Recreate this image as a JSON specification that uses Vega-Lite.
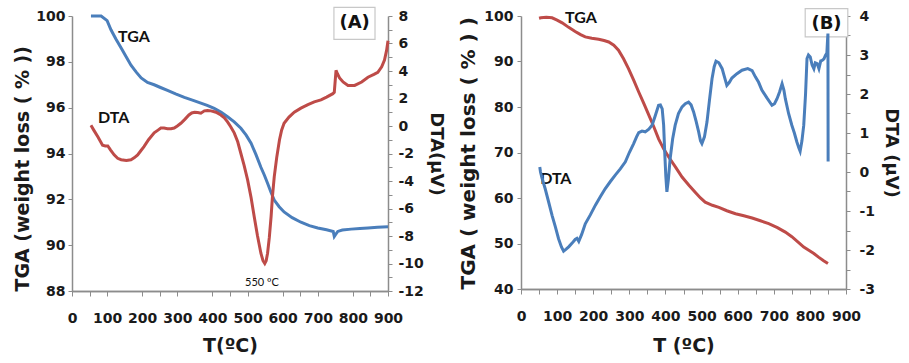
{
  "$schema": "https://vega.github.io/schema/vega-lite/v6.json",
  "padding": {"left": 13, "top": 6, "right": 5, "bottom": 5},
  "background": "white",
  "datasets": {
    "a_tga": [
      {"T":54,"v":100},{"T":83,"v":100},{"T":100,"v":99.8},{"T":111,"v":99.4},{"T":125,"v":99.0},{"T":140,"v":98.6},{"T":155,"v":98.2},{"T":168,"v":97.85},{"T":183,"v":97.55},{"T":197,"v":97.3},{"T":215,"v":97.1},{"T":234,"v":97.0},{"T":252,"v":96.88},{"T":272,"v":96.75},{"T":295,"v":96.6},{"T":320,"v":96.45},{"T":345,"v":96.32},{"T":367,"v":96.2},{"T":385,"v":96.1},{"T":405,"v":95.97},{"T":425,"v":95.8},{"T":443,"v":95.6},{"T":462,"v":95.38},{"T":481,"v":95.1},{"T":496,"v":94.8},{"T":510,"v":94.45},{"T":524,"v":93.95},{"T":538,"v":93.4},{"T":548,"v":93.05},{"T":557,"v":92.7},{"T":567,"v":92.3},{"T":576,"v":91.97},{"T":590,"v":91.68},{"T":604,"v":91.45},{"T":627,"v":91.2},{"T":652,"v":91.0},{"T":676,"v":90.85},{"T":700,"v":90.75},{"T":725,"v":90.67},{"T":744,"v":90.6},{"T":747,"v":90.38},{"T":750,"v":90.45},{"T":757,"v":90.6},{"T":770,"v":90.66},{"T":795,"v":90.7},{"T":820,"v":90.73},{"T":843,"v":90.75},{"T":870,"v":90.78},{"T":900,"v":90.8}
    ],
    "a_dta": [
      {"T":54,"d":0.05},{"T":62,"d":-0.3},{"T":74,"d":-0.8},{"T":87,"d":-1.4},{"T":95,"d":-1.45},{"T":102,"d":-1.45},{"T":110,"d":-1.75},{"T":120,"d":-2.1},{"T":130,"d":-2.35},{"T":140,"d":-2.45},{"T":155,"d":-2.5},{"T":168,"d":-2.45},{"T":178,"d":-2.3},{"T":187,"d":-2.1},{"T":196,"d":-1.8},{"T":205,"d":-1.5},{"T":218,"d":-1.0},{"T":234,"d":-0.5},{"T":245,"d":-0.3},{"T":253,"d":-0.15},{"T":262,"d":-0.15},{"T":272,"d":-0.2},{"T":282,"d":-0.2},{"T":291,"d":-0.15},{"T":300,"d":0.0},{"T":310,"d":0.2},{"T":322,"d":0.5},{"T":333,"d":0.8},{"T":341,"d":0.95},{"T":349,"d":1.0},{"T":358,"d":0.98},{"T":367,"d":0.93},{"T":377,"d":1.1},{"T":386,"d":1.12},{"T":396,"d":1.1},{"T":410,"d":1.0},{"T":424,"d":0.8},{"T":434,"d":0.6},{"T":443,"d":0.3},{"T":452,"d":-0.05},{"T":462,"d":-0.5},{"T":472,"d":-1.15},{"T":481,"d":-2.0},{"T":490,"d":-2.85},{"T":500,"d":-3.9},{"T":510,"d":-5.2},{"T":519,"d":-6.6},{"T":528,"d":-7.95},{"T":538,"d":-9.25},{"T":544,"d":-9.8},{"T":549,"d":-10.0},{"T":553,"d":-9.8},{"T":557,"d":-9.25},{"T":562,"d":-8.1},{"T":567,"d":-6.6},{"T":571,"d":-5.1},{"T":576,"d":-3.7},{"T":583,"d":-2.3},{"T":591,"d":-1.0},{"T":597,"d":-0.3},{"T":604,"d":0.2},{"T":618,"d":0.65},{"T":633,"d":1.0},{"T":652,"d":1.3},{"T":672,"d":1.55},{"T":690,"d":1.75},{"T":709,"d":1.9},{"T":725,"d":2.1},{"T":743,"d":2.35},{"T":747,"d":2.45},{"T":752,"d":4.05},{"T":756,"d":3.8},{"T":762,"d":3.5},{"T":772,"d":3.2},{"T":786,"d":2.95},{"T":805,"d":2.95},{"T":825,"d":3.2},{"T":843,"d":3.55},{"T":860,"d":3.75},{"T":871,"d":3.9},{"T":882,"d":4.3},{"T":890,"d":4.8},{"T":896,"d":5.5},{"T":900,"d":6.2}
    ],
    "a_box": [{"T":746,"T2":863,"v":98.98,"v2":100.38}],
    "a_text": [{"T":805,"v":99.68,"label":"(A)"}],
    "a_lab": [{"T":131,"v":99.07,"label":"TGA"},{"T":74,"v":95.54,"label":"DTA"}],
    "a_small": [{"T":541,"v":88.36,"label":"550 ºC"}],
    "b_tga": [
      {"T":50,"v":99.5},{"T":55,"v":99.6},{"T":70,"v":99.7},{"T":86,"v":99.6},{"T":100,"v":99.1},{"T":114,"v":98.5},{"T":132,"v":97.5},{"T":150,"v":96.6},{"T":165,"v":95.9},{"T":178,"v":95.4},{"T":196,"v":95.1},{"T":215,"v":94.9},{"T":230,"v":94.6},{"T":243,"v":94.3},{"T":257,"v":93.6},{"T":270,"v":92.5},{"T":284,"v":90.6},{"T":298,"v":88.4},{"T":312,"v":85.9},{"T":326,"v":83.3},{"T":340,"v":80.8},{"T":354,"v":78.2},{"T":368,"v":75.6},{"T":381,"v":73.0},{"T":395,"v":70.8},{"T":409,"v":69.0},{"T":428,"v":66.8},{"T":446,"v":64.6},{"T":465,"v":62.8},{"T":483,"v":61.2},{"T":497,"v":60.0},{"T":510,"v":59.1},{"T":530,"v":58.4},{"T":548,"v":57.95},{"T":570,"v":57.2},{"T":594,"v":56.55},{"T":617,"v":56.1},{"T":640,"v":55.6},{"T":663,"v":55.0},{"T":686,"v":54.35},{"T":710,"v":53.5},{"T":732,"v":52.5},{"T":750,"v":51.5},{"T":769,"v":50.2},{"T":783,"v":49.2},{"T":797,"v":48.5},{"T":811,"v":47.8},{"T":824,"v":47.0},{"T":838,"v":46.2},{"T":850,"v":45.6}
    ],
    "b_dta": [
      {"T":52,"d":0.13},{"T":54,"d":0.0},{"T":58,"d":-0.15},{"T":67,"d":-0.43},{"T":76,"d":-0.75},{"T":86,"d":-1.11},{"T":95,"d":-1.4},{"T":104,"d":-1.71},{"T":112,"d":-1.92},{"T":118,"d":-2.03},{"T":125,"d":-1.98},{"T":132,"d":-1.92},{"T":141,"d":-1.83},{"T":150,"d":-1.73},{"T":155,"d":-1.7},{"T":160,"d":-1.78},{"T":168,"d":-1.6},{"T":178,"d":-1.33},{"T":192,"d":-1.1},{"T":206,"d":-0.85},{"T":220,"d":-0.63},{"T":233,"d":-0.43},{"T":247,"d":-0.25},{"T":261,"d":-0.08},{"T":275,"d":0.08},{"T":289,"d":0.26},{"T":300,"d":0.5},{"T":312,"d":0.73},{"T":320,"d":0.9},{"T":326,"d":1.01},{"T":335,"d":1.05},{"T":344,"d":1.03},{"T":354,"d":1.1},{"T":363,"d":1.2},{"T":372,"d":1.45},{"T":381,"d":1.71},{"T":386,"d":1.72},{"T":391,"d":1.62},{"T":395,"d":1.2},{"T":398,"d":0.51},{"T":401,"d":-0.1},{"T":404,"d":-0.51},{"T":408,"d":-0.2},{"T":413,"d":0.34},{"T":420,"d":0.85},{"T":427,"d":1.2},{"T":436,"d":1.5},{"T":446,"d":1.67},{"T":455,"d":1.75},{"T":464,"d":1.79},{"T":471,"d":1.72},{"T":478,"d":1.54},{"T":485,"d":1.3},{"T":492,"d":1.03},{"T":497,"d":0.8},{"T":501,"d":0.73},{"T":508,"d":0.9},{"T":515,"d":1.28},{"T":522,"d":1.85},{"T":529,"d":2.39},{"T":535,"d":2.7},{"T":540,"d":2.84},{"T":548,"d":2.8},{"T":557,"d":2.65},{"T":563,"d":2.45},{"T":570,"d":2.22},{"T":577,"d":2.3},{"T":584,"d":2.41},{"T":598,"d":2.52},{"T":612,"d":2.61},{"T":628,"d":2.65},{"T":640,"d":2.6},{"T":649,"d":2.44},{"T":658,"d":2.3},{"T":667,"d":2.1},{"T":681,"d":1.9},{"T":695,"d":1.71},{"T":702,"d":1.75},{"T":709,"d":1.88},{"T":716,"d":2.05},{"T":723,"d":2.26},{"T":728,"d":2.1},{"T":732,"d":1.88},{"T":741,"d":1.5},{"T":750,"d":1.2},{"T":757,"d":1.0},{"T":764,"d":0.77},{"T":770,"d":0.6},{"T":773,"d":0.53},{"T":778,"d":0.8},{"T":783,"d":1.2},{"T":788,"d":2.0},{"T":792,"d":2.91},{"T":796,"d":3.0},{"T":801,"d":2.95},{"T":806,"d":2.75},{"T":811,"d":2.65},{"T":815,"d":2.8},{"T":820,"d":2.78},{"T":825,"d":2.65},{"T":830,"d":2.85},{"T":834,"d":2.86},{"T":839,"d":2.9},{"T":843,"d":2.99},{"T":847,"d":3.05},{"T":849,"d":3.4},{"T":850,"d":3.55},{"T":850.5,"d":0.27}
    ],
    "b_box": [{"T":787,"T2":905,"v":95.4,"v2":101.6}],
    "b_text": [{"T":846,"v":98.3,"label":"(B)"}],
    "b_lab": [{"T":122,"v":99.6,"label":"TGA"},{"T":53,"v":64.2,"label":"DTA"}]
  },
  "hconcat": [
    {
      "width": 316,
      "height": 275,
      "layer": [
        {
          "layer": [
            {
              "data": {"name": "a_tga"},
              "mark": {"type": "line", "color": "#4a7ebb", "strokeWidth": 3},
              "encoding": {
                "x": {"field": "T", "type": "quantitative", "scale": {"domain": [0, 900], "nice": false},
                  "axis": {"orient": "bottom", "title": null, "labels": false, "tickSize": 5, "values": [50,150,250,350,450,550,650,750,850]}},
                "y": {"field": "v", "type": "quantitative", "scale": {"domain": [88, 100], "nice": false, "zero": false},
                  "axis": {"title": "TGA (weight loss ( % ))", "titleAnchor": "start", "values": [88,89,90,91,92,93,94,95,96,97,98,99,100],
                    "labelExpr": "datum.value % 2 == 0 ? datum.label : ''", "labelOverlap": false, "labelPadding": 3, "titlePadding": 3, "titleFontSize": 19}}
              }
            },
            {
              "data": {"name": "a_box"},
              "mark": {"type": "rect", "fill": "white", "stroke": "#c8c8c8", "strokeWidth": 1.2},
              "encoding": {
                "x": {"field": "T", "type": "quantitative"},
                "x2": {"field": "T2"},
                "y": {"field": "v", "type": "quantitative"},
                "y2": {"field": "v2"}
              }
            },
            {
              "data": {"name": "a_text"},
              "mark": {"type": "text", "font": "DejaVu Sans", "fontWeight": "bold", "fontSize": 18, "color": "#111", "align": "center", "baseline": "middle"},
              "encoding": {
                "x": {"field": "T", "type": "quantitative"},
                "y": {"field": "v", "type": "quantitative"},
                "text": {"field": "label"}
              }
            },
            {
              "data": {"name": "a_lab"},
              "mark": {"type": "text", "font": "Lato", "fontWeight": "bold", "fontSize": 16, "color": "#111", "align": "left", "baseline": "middle"},
              "encoding": {
                "x": {"field": "T", "type": "quantitative"},
                "y": {"field": "v", "type": "quantitative"},
                "text": {"field": "label"}
              }
            },
            {
              "data": {"name": "a_small"},
              "mark": {"type": "text", "font": "Lato", "fontSize": 11, "color": "#111", "align": "center", "baseline": "middle"},
              "encoding": {
                "x": {"field": "T", "type": "quantitative"},
                "y": {"field": "v", "type": "quantitative"},
                "text": {"field": "label"}
              }
            }
          ]
        },
        {
          "data": {"name": "a_dta"},
          "mark": {"type": "line", "color": "#be4b48", "strokeWidth": 3},
          "encoding": {
            "x": {"field": "T", "type": "quantitative",
              "axis": {"orient": "bottom", "title": "T(ºC)", "values": [0,100,200,300,400,500,600,700,800,900],
                "labelOverlap": false, "labelSeparation": -10, "labelFont": "DejaVu Sans", "labelFontSize": 14, "labelFontWeight": "bold",
                "labelPadding": 15, "titlePadding": 11, "tickSize": 5, "titleFontSize": 19}},
            "y": {"field": "d", "type": "quantitative", "scale": {"domain": [-12, 8], "nice": false, "zero": false},
              "axis": {"orient": "right", "title": "DTA(μV)", "values": [-12,-11,-10,-9,-8,-7,-6,-5,-4,-3,-2,-1,0,1,2,3,4,5,6,7,8],
                "labelExpr": "datum.value % 2 == 0 ? ('' + datum.value) : ''", "labelOverlap": false, "labelPadding": 6, "titlePadding": 3}}
          }
        }
      ],
      "resolve": {"scale": {"y": "independent"}, "axis": {"x": "independent"}}
    },
    {
      "width": 325,
      "height": 273,
      "layer": [
        {
          "layer": [
            {
              "data": {"name": "b_box"},
              "mark": {"type": "rect", "fill": "white", "stroke": "#c8c8c8", "strokeWidth": 1.2},
              "encoding": {
                "x": {"field": "T", "type": "quantitative"},
                "x2": {"field": "T2"},
                "y": {"field": "v", "type": "quantitative"},
                "y2": {"field": "v2"}
              }
            },
            {
              "data": {"name": "b_tga"},
              "mark": {"type": "line", "color": "#be4b48", "strokeWidth": 3},
              "encoding": {
                "x": {"field": "T", "type": "quantitative", "scale": {"domain": [0, 900], "nice": false},
                  "axis": {"orient": "bottom", "title": null, "labels": false, "tickSize": 5, "values": [50,150,250,350,450,550,650,750,850]}},
                "y": {"field": "v", "type": "quantitative", "scale": {"domain": [40, 100], "nice": false, "zero": false},
                  "axis": {"title": "TGA ( weight loss ( % ) )", "titleAnchor": "start", "values": [40,45,50,55,60,65,70,75,80,85,90,95,100],
                    "labelExpr": "datum.value % 10 == 0 ? datum.label : ''", "labelOverlap": false, "labelPadding": 4, "titlePadding": 5, "titleFontSize": 20}}
              }
            },
            {
              "data": {"name": "b_text"},
              "mark": {"type": "text", "font": "DejaVu Sans", "fontWeight": "bold", "fontSize": 18, "color": "#111", "align": "center", "baseline": "middle"},
              "encoding": {
                "x": {"field": "T", "type": "quantitative"},
                "y": {"field": "v", "type": "quantitative"},
                "text": {"field": "label"}
              }
            },
            {
              "data": {"name": "b_lab"},
              "mark": {"type": "text", "font": "Lato", "fontWeight": "bold", "fontSize": 16, "color": "#111", "align": "left", "baseline": "middle"},
              "encoding": {
                "x": {"field": "T", "type": "quantitative"},
                "y": {"field": "v", "type": "quantitative"},
                "text": {"field": "label"}
              }
            }
          ]
        },
        {
          "data": {"name": "b_dta"},
          "mark": {"type": "line", "color": "#4a7ebb", "strokeWidth": 3},
          "encoding": {
            "x": {"field": "T", "type": "quantitative",
              "axis": {"orient": "bottom", "title": "T (ºC)", "values": [0,100,200,300,400,500,600,700,800,900],
                "labelOverlap": false, "labelSeparation": -10, "labelFont": "DejaVu Sans", "labelFontSize": 14, "labelFontWeight": "bold",
                "labelPadding": 15, "titlePadding": 13, "tickSize": 5, "titleFontSize": 19}},
            "y": {"field": "d", "type": "quantitative", "scale": {"domain": [-3, 4], "nice": false, "zero": false},
              "axis": {"orient": "right", "title": "DTA (μV)", "values": [-3,-2.5,-2,-1.5,-1,-0.5,0,0.5,1,1.5,2,2.5,3,3.5,4],
                "labelExpr": "datum.value % 1 == 0 ? ('' + datum.value) : ''", "labelOverlap": false, "labelPadding": 9, "titlePadding": 7}}
          }
        }
      ],
      "resolve": {"scale": {"y": "independent"}, "axis": {"x": "independent"}}
    }
  ],
  "config": {
    "view": {"stroke": null},
    "concat": {"spacing": 13},
    "axis": {
      "grid": false,
      "domainColor": "#8c8c8c",
      "domainWidth": 1.5,
      "tickColor": "#8c8c8c",
      "tickWidth": 1,
      "tickSize": 4,
      "labelFont": "DejaVu Sans",
      "labelFontSize": 14,
      "labelFontWeight": "bold",
      "labelColor": "#1a1a1a",
      "labelOverlap": false,
      "labelFlush": false,
      "titleFont": "DejaVu Sans",
      "titleFontSize": 18,
      "titleFontWeight": "bold",
      "titleColor": "#1a1a1a"
    }
  }
}
